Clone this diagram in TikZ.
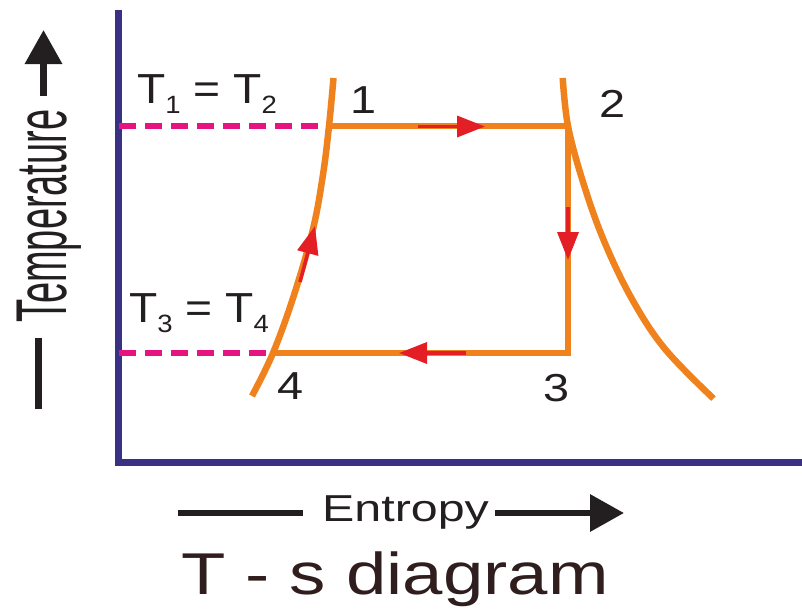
\documentclass[tikz,border=0pt]{standalone}
\usepackage{fontspec}
\setmainfont{Liberation Sans}
\usetikzlibrary{arrows.meta}
\definecolor{axisblue}{RGB}{58,49,133}
\definecolor{cycorange}{RGB}{240,130,30}
\definecolor{dashpink}{RGB}{230,20,130}
\definecolor{arrred}{RGB}{227,30,36}
\definecolor{txtdark}{RGB}{35,31,32}
\definecolor{titledark}{RGB}{48,30,30}
\tikzset{
  axisline/.style={draw=axisblue,line width=7pt},
  cycle/.style={draw=cycorange,line width=6.5pt},
  guide/.style={draw=dashpink,line width=6pt,dash pattern=on 17pt off 9pt},
  flowarrow/.style={draw=arrred,line width=3.5pt,-{Triangle[length=28pt,width=21pt]}},
  labelarrow/.style={draw=txtdark,line width=6.5pt,-{Triangle[length=34pt,width=36pt]}},
  labelline/.style={draw=txtdark,line width=6.5pt},
  lbl/.style={inner sep=0pt,text=txtdark,anchor=base west},
}
\begin{document}
\begin{tikzpicture}[x=1pt,y=-1pt]
\useasboundingbox (0,0) rectangle (802,608);
% axes
\coordinate (ytop) at (118.5,10);
\coordinate (xend) at (802,462);
\draw[axisline] (ytop) |- (xend);
% cycle points
\coordinate (p1) at (329,126);
\coordinate (p2) at (568,126);
\coordinate (p3) at (568,353);
\coordinate (p4) at (273,353);
\coordinate (d1) at (119,126);
\coordinate (d4) at (119,353);
% dashed guides
\draw[guide] (d1) -- (p1);
\draw[guide] (d4) -- (p4);
% left curve (isentrope through 4 and 1)
\draw[cycle] plot[smooth,tension=0.6] coordinates {(333.5,78) (p1) (323,174.5) (313,229) (294,295) (p4) (252,396)};
% right curve through 2
\draw[cycle] plot[smooth,tension=0.6] coordinates {(562.7,78) (p2) (583,182) (603.6,240) (631.7,298.6) (665,349) (713.5,398.6)};
% constant T and vertical lines
\draw[cycle,line join=miter] (p1) -- (p2) -- (p3) -- (p4);
% flow arrows
\coordinate (a1s) at (418,126.5);
\coordinate (a1e) at (485,126.5);
\draw[flowarrow] (a1s) -- (a1e);
\coordinate (a2s) at (568,207);
\coordinate (a2e) at (568,260);
\draw[flowarrow] (a2s) -- (a2e);
\coordinate (a3s) at (466,353);
\coordinate (a3e) at (399,353);
\draw[flowarrow] (a3s) -- (a3e);
\coordinate (a4s) at (300,282);
\coordinate (a4e) at (315,226);
\draw[flowarrow] (a4s) -- (a4e);
% point labels
\node[lbl] (n1) at (350,113) {\fontsize{39}{39}\selectfont\scalebox{1.2}[1]{1}};
\node[lbl] (n2) at (599,117) {\fontsize{39}{39}\selectfont\scalebox{1.2}[1]{2}};
\node[lbl] (n3) at (543,401) {\fontsize{39}{39}\selectfont\scalebox{1.2}[1]{3}};
\node[lbl] (n4) at (277,399) {\fontsize{39}{39}\selectfont\scalebox{1.2}[1]{4}};
% temperature equalities
\node[lbl] (t12) at (137,103) {\scalebox{1.1}[1]{\fontsize{42}{42}\selectfont T\raisebox{-10pt}{\fontsize{25}{25}\selectfont 1} = T\raisebox{-10pt}{\fontsize{25}{25}\selectfont 2}}};
\node[lbl] (t34) at (129,322) {\scalebox{1.1}[1]{\fontsize{42}{42}\selectfont T\raisebox{-10pt}{\fontsize{25}{25}\selectfont 3} = T\raisebox{-10pt}{\fontsize{25}{25}\selectfont 4}}};
% axis labels
\coordinate (tl0) at (38.5,409);
\coordinate (tl1) at (38.5,338);
\draw[labelline] (tl0) -- (tl1);
\node[lbl,rotate=90] (temp) at (66,323) {\fontsize{72}{72}\selectfont\scalebox{0.527}[1]{Temperature}};
\coordinate (ta0) at (43.5,96);
\coordinate (ta1) at (43.5,30);
\draw[labelarrow] (ta0) -- (ta1);
\coordinate (el0) at (178,513);
\coordinate (el1) at (303,513);
\draw[labelline] (el0) -- (el1);
\node[lbl] (ent) at (322,521.5) {\fontsize{37.5}{37.5}\selectfont\scalebox{1.29}[1]{Entropy}};
\coordinate (ea0) at (495,513);
\coordinate (ea1) at (624,513);
\draw[labelarrow] (ea0) -- (ea1);
% title
\node[lbl,text=titledark] (title) at (181,594) {\fontsize{59}{59}\selectfont\scalebox{1.23}[1]{T - s diagram}};
\end{tikzpicture}
\end{document}
